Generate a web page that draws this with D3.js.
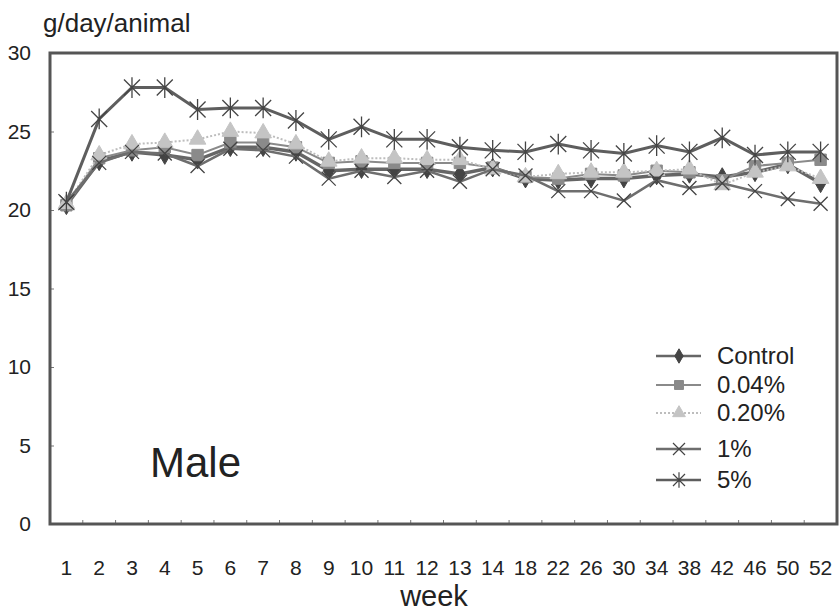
<!DOCTYPE html>
<html lang="en">
<head>
<meta charset="UTF-8">
<title>Food consumption - Male</title>
<style>
  html, body { margin: 0; padding: 0; background: #fff; }
  svg text { font-family: 'Liberation Sans', Arial, sans-serif; fill: #222; }
</style>
</head>
<body>
<div id="chart"></div>
<script src="https://d3js.org/d3.v7.min.js"></script>
<script>
// week categories on the x axis
const weeks = ["1","2","3","4","5","6","7","8","9","10","11","12","13","14",
               "18","22","26","30","34","38","42","46","50","52"];

// g/day/animal
const control = [20.3,23.1,23.7,23.5,23.2,24.0,24.0,23.7,22.5,22.6,22.6,22.6,22.3,22.7,
                 22.0,21.9,22.0,22.0,22.2,22.3,22.1,22.4,22.9,21.7];
const dose004 = [20.3,23.3,23.8,24.0,23.5,24.3,24.3,24.0,23.0,23.1,23.0,23.0,23.0,22.7,
                 22.1,22.0,22.3,22.2,22.5,22.4,21.9,22.8,23.0,23.2];
const dose020 = [20.4,23.5,24.2,24.3,24.5,25.0,24.9,24.2,23.1,23.3,23.3,23.2,23.2,22.6,
                 22.1,22.3,22.4,22.4,22.5,22.6,21.6,22.4,22.8,22.0];
const dose1 = [20.5,23.0,23.7,23.6,22.8,23.9,23.8,23.4,22.0,22.5,22.1,22.5,21.8,22.6,
               22.2,21.2,21.2,20.6,21.9,21.4,21.7,21.2,20.7,20.4];
const dose5 = [20.5,25.8,27.8,27.8,26.4,26.5,26.5,25.7,24.5,25.3,24.5,24.5,24.0,23.8,
               23.7,24.2,23.8,23.6,24.1,23.7,24.6,23.5,23.7,23.7];

const seriesNames = ["Control","0.04%","0.20%","1%","5%"];
const yTicks = [0,5,10,15,20,25,30];

const W = 839, H = 615;
const frame = {left: 50, right: 837, top: 53, bottom: 524};

const svg = d3.select("#chart").append("svg")
  .attr("width", W).attr("height", H);

const x = d3.scaleBand().domain(weeks).range([frame.left, frame.right]).padding(0);
const y = d3.scaleLinear().domain([0, 30]).range([frame.bottom, frame.top]);

// small inward ticks
const xAxis = svg.append("g")
  .attr("transform", `translate(0,${frame.bottom})`)
  .call(d3.axisBottom(x).tickSize(-4).tickFormat(""));
xAxis.selectAll(".tick line").attr("transform", `translate(${x.bandwidth()/2},0)`).attr("stroke", "#777");
xAxis.select(".domain").remove();

const yAxis = svg.append("g")
  .attr("transform", `translate(${frame.left},0)`)
  .call(d3.axisLeft(y).tickValues(yTicks).tickSize(-4).tickPadding(19));
yAxis.select(".domain").remove();
yAxis.selectAll(".tick line").attr("stroke", "#777");
yAxis.selectAll(".tick text")
  .attr("font-size", null)
  .style("font-size", "21px").attr("fill", "#222");

// week labels
svg.append("g").selectAll("text")
  .data(weeks).enter().append("text")
  .attr("x", d => x(d) + x.bandwidth()/2)
  .attr("y", 575)
  .attr("text-anchor", "middle")
  .style("font-size", "21px")
  .text(d => d);

// plot frame
svg.append("rect")
  .attr("x", frame.left).attr("y", frame.top)
  .attr("width", frame.right - frame.left).attr("height", frame.bottom - frame.top)
  .attr("fill", "none").attr("stroke", "#555").attr("stroke-width", 3);

svg.append("text").attr("x", 43).attr("y", 32)
  .style("font-size", "26px").text("g/day/animal");
svg.append("text").attr("x", 434).attr("y", 606).attr("text-anchor", "middle")
  .style("font-size", "29px").text("week");
svg.append("text").attr("x", 150).attr("y", 477)
  .style("font-size", "42px").attr("fill", "#333").text("Male");

// marker shapes
function xMark(r) {
  return `M${-r},${-r}L${r},${r}M${-r},${r}L${r},${-r}`;
}
function starMark(r) {
  return xMark(r) + `M0,${-r * 1.3}L0,${r * 1.3}`;
}

const styles = [
  {values: control, line: "#666", width: 3.5, dash: null, fill: "#444", marker: d3.symbol(d3.symbolDiamond, 100)(), small: d3.symbol(d3.symbolDiamond, 60)()},
  {values: dose004, line: "#8a8a8a", width: 2, dash: null, fill: "#8a8a8a", marker: d3.symbol(d3.symbolSquare, 130)(), small: d3.symbol(d3.symbolSquare, 80)()},
  {values: dose020, line: "#bdbdbd", width: 2, dash: "2,2", fill: "#c4c4c4", marker: d3.symbol(d3.symbolTriangle, 120)(), small: d3.symbol(d3.symbolTriangle, 70)()},
  {values: dose1, line: "#6e6e6e", width: 2.5, dash: null, fill: "none", marker: xMark(7), small: xMark(6)},
  {values: dose5, line: "#5e5e5e", width: 3, dash: null, fill: "none", marker: starMark(8), small: starMark(6)}
];

const line = d3.line()
  .x((d, i) => x(weeks[i]) + x.bandwidth()/2)
  .y(d => y(d));

styles.forEach(s => {
  svg.append("path")
    .datum(s.values)
    .attr("d", line)
    .attr("fill", "none")
    .attr("stroke", s.line)
    .attr("stroke-width", s.width)
    .attr("stroke-dasharray", s.dash);

  svg.append("g").selectAll("path")
    .data(s.values).enter().append("path")
    .attr("transform", (d, i) => `translate(${x(weeks[i]) + x.bandwidth()/2},${y(d)})`)
    .attr("d", s.marker)
    .attr("fill", s.fill)
    .attr("stroke", s.fill === "none" ? "#444" : s.fill)
    .attr("stroke-width", s.fill === "none" ? 1.3 : 1);
});

// legend
const legendY = [356, 385, 413, 449, 480];
const legend = svg.append("g");
styles.forEach((s, i) => {
  const g = legend.append("g").attr("transform", `translate(0,${legendY[i]})`);
  g.append("line").attr("x1", 656).attr("x2", 701).attr("y1", 0).attr("y2", 0)
    .attr("stroke", s.line).attr("stroke-width", Math.min(s.width, 2.5))
    .attr("stroke-dasharray", s.dash);
  g.append("path").attr("transform", "translate(679,0)")
    .attr("d", s.small)
    .attr("fill", s.fill)
    .attr("stroke", s.fill === "none" ? "#444" : s.fill)
    .attr("stroke-width", s.fill === "none" ? 1.2 : 1);
  g.append("text").attr("x", 717).attr("y", 8)
    .style("font-size", "24px").text(seriesNames[i]);
});
</script>
</body>
</html>
